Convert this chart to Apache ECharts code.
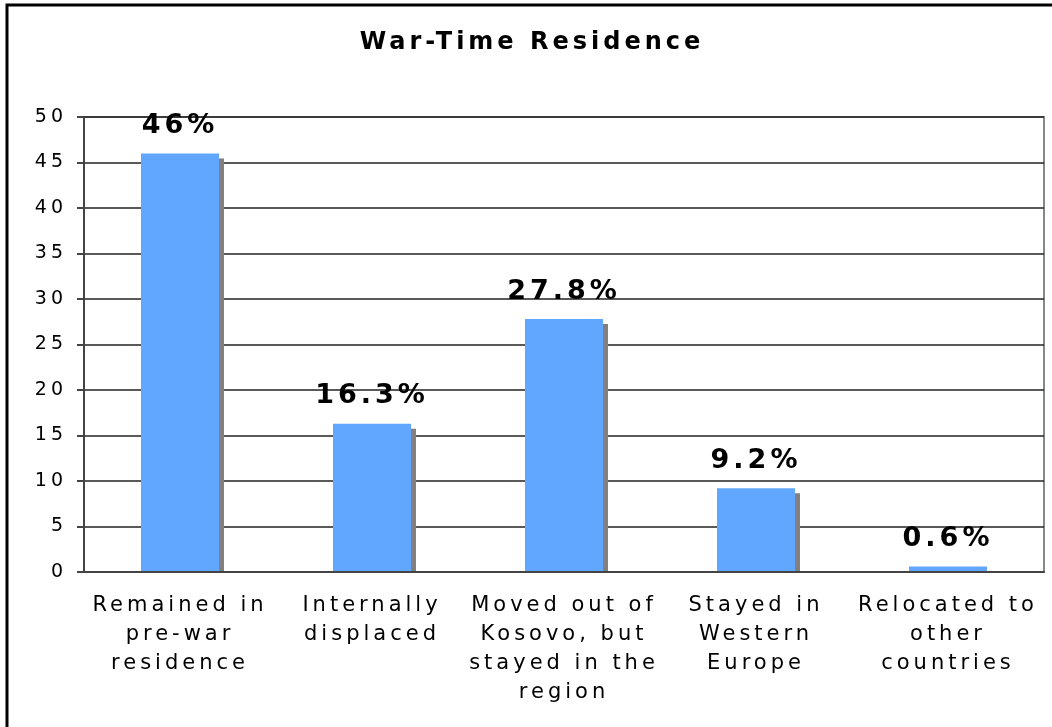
<!DOCTYPE html>
<html lang="en">

<head>
    <meta charset="UTF-8">
    <title>War-Time Residence</title>
    <style>
        html,
        body {
            margin: 0;
            padding: 0;
            background: #fff;
        }
    </style>
</head>

<body>
    <div id="show" style="width: 1052px; height: 727px;"></div>

    <script src="https://cdn.jsdelivr.net/npm/echarts@6/dist/echarts.min.js"></script>
    <script>
        var categories = [
            'Remained in\npre-war\nresidence',
            'Internally\ndisplaced',
            'Moved out of\nKosovo, but\nstayed in the\nregion',
            'Stayed in\nWestern\nEurope',
            'Relocated to\nother\ncountries'
        ];
        var values = [46, 16.3, 27.8, 9.2, 0.6];
        var valueLabels = ['46%', '16.3%', '27.8%', '9.2%', '0.6%'];

        var font = 'DejaVu Sans, Verdana, sans-serif';
        var myChart = echarts.init(document.querySelector('#show'));

        myChart.setOption({
            animation: false,
            title: {
                text: 'War-Time Residence',
                left: 527,
                textAlign: 'center',
                top: 26,
                textStyle: {
                    fontFamily: font,
                    fontSize: 24,
                    fontWeight: 'bold',
                    color: '#000'
                }
            },
            graphic: [{
                // black outer frame, cut off at right and bottom like the original
                type: 'rect',
                shape: { x: 7, y: 5, width: 1200, height: 900 },
                style: { fill: 'none', stroke: '#000', lineWidth: 3 },
                silent: true
            }, {
                // hide the part of the bar shadows that falls under the axis
                type: 'rect',
                z: 3,
                shape: { x: 84, y: 573, width: 962, height: 10 },
                style: { fill: '#fff' },
                silent: true
            }],
            grid: {
                left: 84,
                right: 8,
                top: 117,
                bottom: 155,
                show: true,
                borderColor: '#888',
                borderWidth: 2,
                backgroundColor: '#fff'
            },
            xAxis: {
                type: 'category',
                data: categories,
                z: 4,
                axisLine: { lineStyle: { color: '#444', width: 2 } },
                axisTick: { length: 7, lineStyle: { color: '#444', width: 2 } },
                axisLabel: {
                    interval: 0,
                    margin: 19,
                    lineHeight: 29,
                    fontFamily: font,
                    fontSize: 21,
                    color: '#000'
                }
            },
            yAxis: {
                type: 'value',
                min: 0,
                max: 50,
                interval: 5,
                axisLine: { show: true, lineStyle: { color: '#444', width: 2 } },
                axisTick: { show: true, length: 7, lineStyle: { color: '#444', width: 2 } },
                axisLabel: {
                    margin: 17,
                    fontFamily: font,
                    fontSize: 19,
                    color: '#000'
                },
                splitLine: { lineStyle: { color: '#222', width: 1.5 } }
            },
            series: [{
                type: 'bar',
                data: values,
                barWidth: 78,
                itemStyle: {
                    color: '#62a7ff',
                    shadowColor: '#808080',
                    shadowOffsetX: 5,
                    shadowOffsetY: 5,
                    shadowBlur: 0
                },
                label: {
                    show: true,
                    position: 'top',
                    distance: 14,
                    formatter: function (p) {
                        return valueLabels[p.dataIndex];
                    },
                    fontFamily: font,
                    fontSize: 27,
                    fontWeight: 'bold',
                    color: '#000'
                }
            }]
        });

        // the original uses spaced-out lettering; canvas can do that natively
        var zr = myChart.getZr();
        var layer = zr.painter.getLayer(0);
        if (layer && layer.ctx && 'letterSpacing' in layer.ctx) {
            layer.ctx.letterSpacing = '4px';
            zr.painter.refresh(true);
        }
    </script>
</body>

</html>
